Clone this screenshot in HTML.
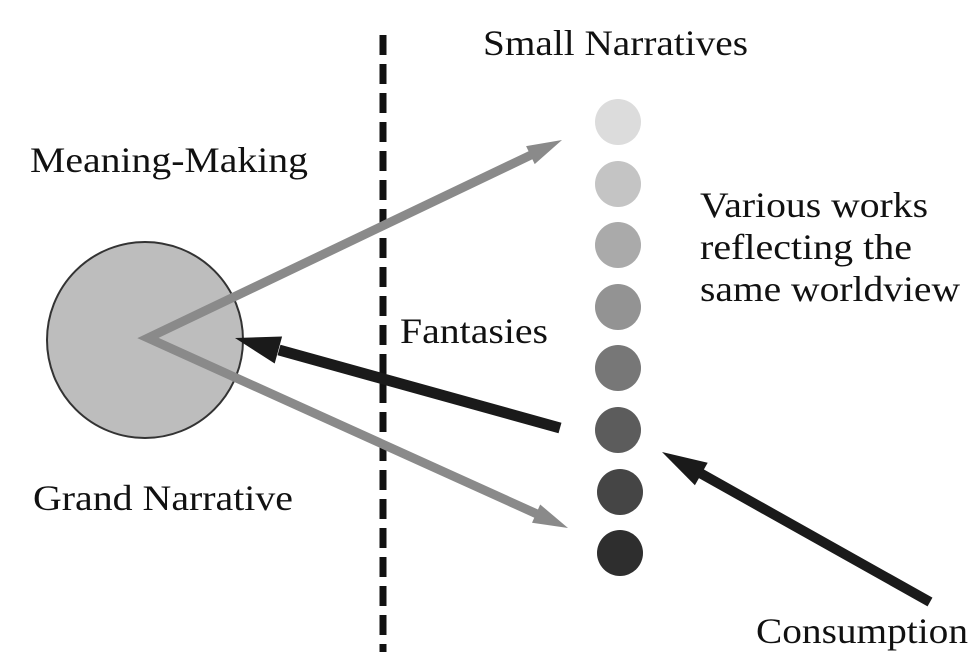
<!DOCTYPE html>
<html><head><style>
body{margin:0;background:#fff;width:974px;height:664px;overflow:hidden}
svg text{font-family:"Liberation Serif",serif;font-size:36px;fill:#111}
</style></head><body>
<svg width="974" height="664" viewBox="0 0 974 664">
<line x1="383" y1="35" x2="383" y2="652" stroke="#111" stroke-width="7" stroke-dasharray="20,9"/>
<circle cx="145" cy="340" r="98" fill="#bdbdbd" stroke="#333" stroke-width="2"/>
<circle cx="618" cy="122" r="23" fill="#dcdcdc"/>
<circle cx="618" cy="184" r="23" fill="#c4c4c4"/>
<circle cx="618" cy="245" r="23" fill="#aaaaaa"/>
<circle cx="618" cy="307" r="23" fill="#939393"/>
<circle cx="618" cy="368" r="23" fill="#777"/>
<circle cx="618" cy="430" r="23" fill="#5c5c5c"/>
<circle cx="620" cy="492" r="23" fill="#454545"/>
<circle cx="620" cy="553" r="23" fill="#2e2e2e"/>
<polyline points="531,155 148,338 537,514" fill="none" stroke="#8a8a8a" stroke-width="9" stroke-linejoin="miter"/>
<polygon points="562,140 534.7,164.1 526.1,146.1" fill="#8a8a8a"/>
<polygon points="568,528 532,522.7 540.2,504.5" fill="#8a8a8a"/>
<line x1="560" y1="428" x2="279" y2="350" stroke="#1a1a1a" stroke-width="11"/>
<polygon points="235,338 282.1,336.5 274.7,363.5" fill="#1a1a1a"/>
<line x1="930" y1="602" x2="700" y2="473" stroke="#1a1a1a" stroke-width="10"/>
<polygon points="662,452 707.7,462.7 694.9,485.3" fill="#1a1a1a"/>
<text x="483" y="55" textLength="265" lengthAdjust="spacingAndGlyphs">Small Narratives</text>
<text x="30" y="172" textLength="278" lengthAdjust="spacingAndGlyphs">Meaning-Making</text>
<text x="700" y="217" textLength="228" lengthAdjust="spacingAndGlyphs">Various works</text>
<text x="700" y="259" textLength="212" lengthAdjust="spacingAndGlyphs">reflecting the</text>
<text x="700" y="301" textLength="260" lengthAdjust="spacingAndGlyphs">same worldview</text>
<text x="400" y="343" textLength="148" lengthAdjust="spacingAndGlyphs">Fantasies</text>
<text x="33" y="510" textLength="260" lengthAdjust="spacingAndGlyphs">Grand Narrative</text>
<text x="756" y="643" textLength="212" lengthAdjust="spacingAndGlyphs">Consumption</text>
</svg>
</body></html>
